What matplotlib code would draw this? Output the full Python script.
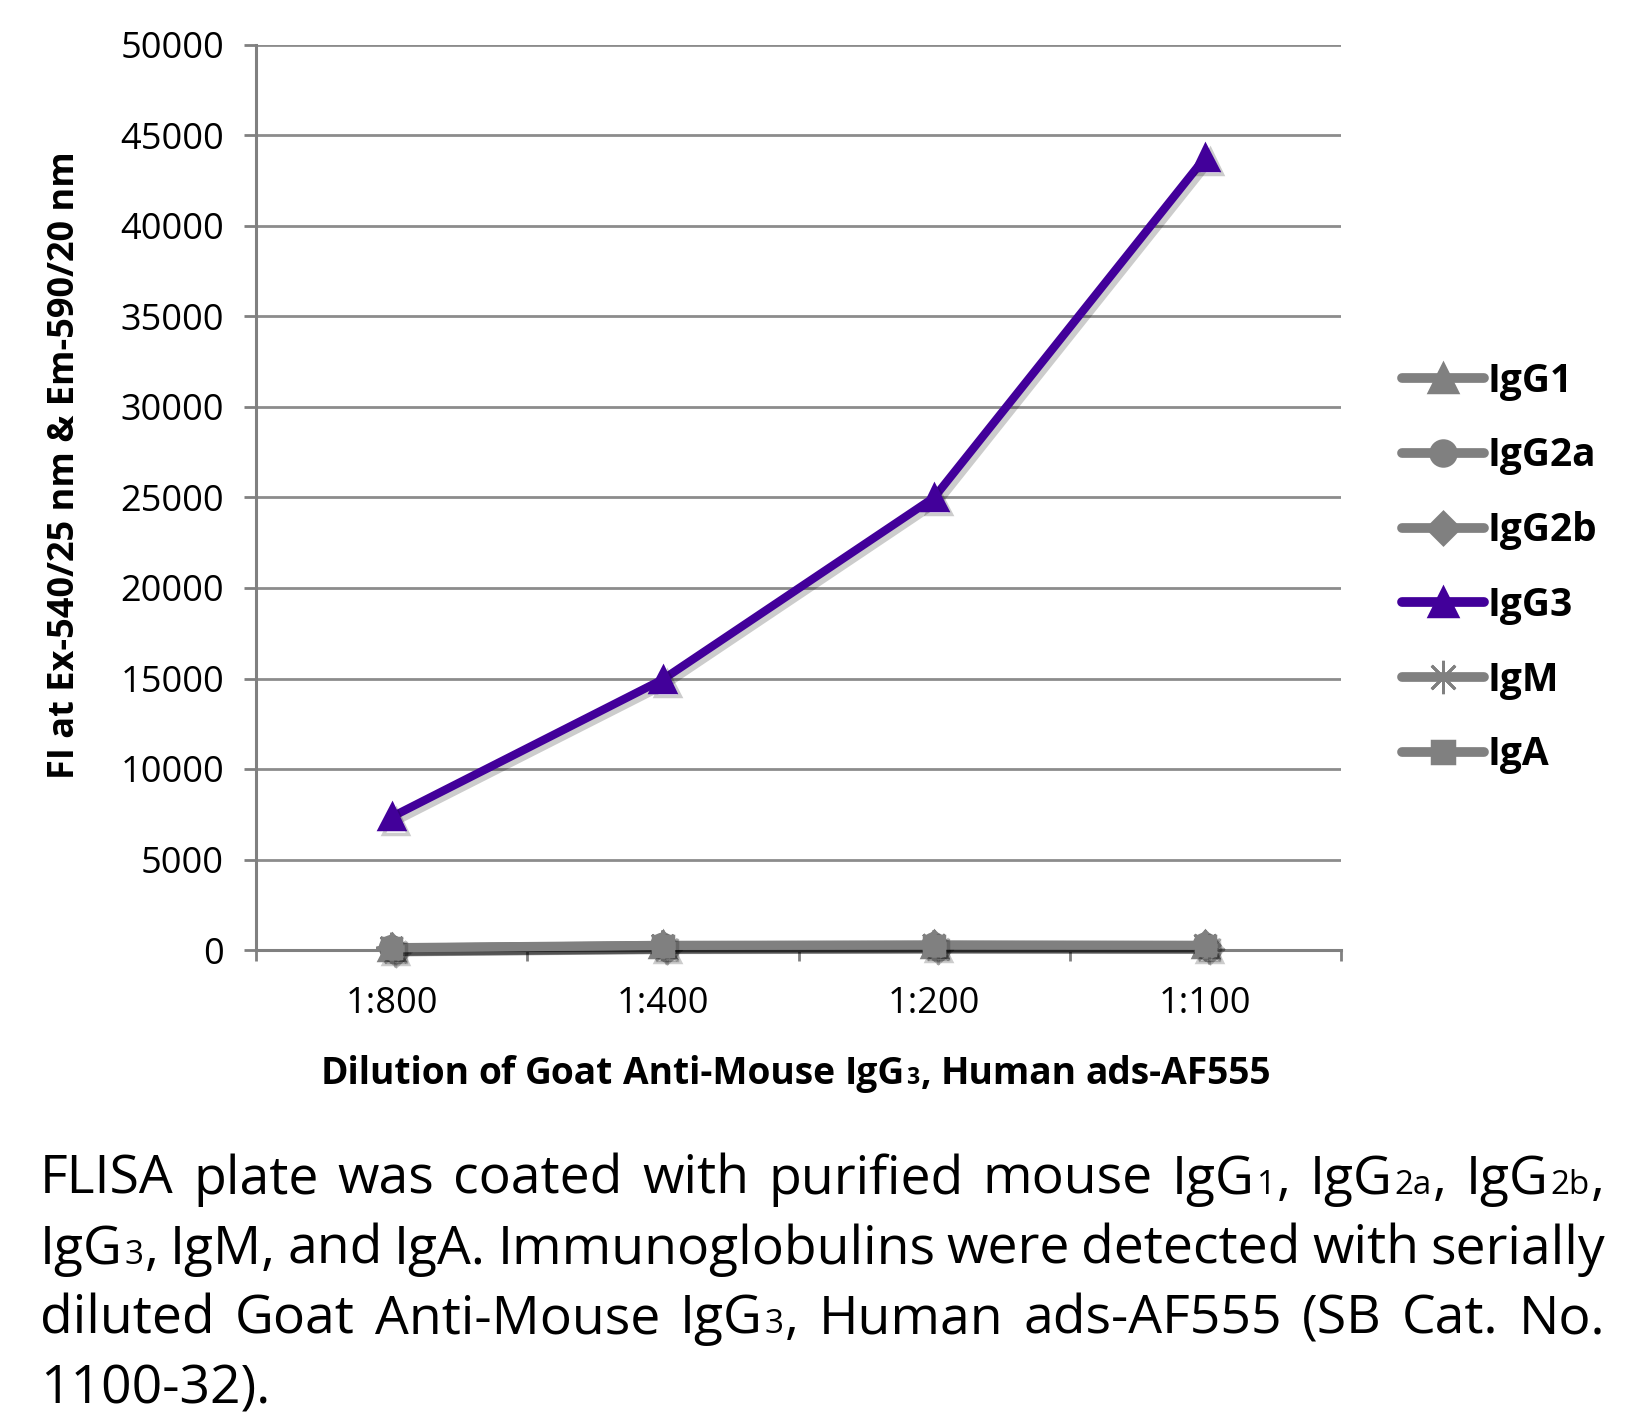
import re
import numpy as np
import matplotlib
matplotlib.use("Agg")
import matplotlib.pyplot as plt
import matplotlib.patheffects as pe
from matplotlib.lines import Line2D

W, H, DPI = 1642, 1419, 100
FONT = "Open Sans"

dilutions = ["1:800", "1:400", "1:200", "1:100"]
series_names = ["IgG1", "IgG2a", "IgG2b", "IgG3", "IgM", "IgA"]
igg1 = [150, 280, 300, 280]
igg2a = [120, 250, 270, 260]
igg2b = [130, 260, 280, 270]
igg3 = [7350, 14950, 25000, 43800]
igm = [110, 240, 260, 250]
iga = [100, 230, 250, 240]
y_ticks = list(range(0, 50001, 5000))

series_values = [igg1, igg2a, igg2b, igg3, igm, iga]
GREY = "#808080"
PURPLE = "#42009A"
colors = [GREY, GREY, GREY, PURPLE, GREY, GREY]
markers = ["^", "o", "D", "^", (8, 2, 0), "s"]
msizes = [18, 16, 14, 18, 22, 14]
mews = [2.5, 2.5, 2.5, 2.5, 2.0, 2.5]

x_label = "Dilution of Goat Anti-Mouse IgG{3}, Human ads-AF555"
y_label = "FI at Ex-540/25 nm & Em-590/20 nm"
caption = [
    "FLISA plate was coated with purified mouse IgG{1}, IgG{2a}, IgG{2b},",
    "IgG{3}, IgM, and IgA.  Immunoglobulins were detected with serially",
    "diluted Goat Anti-Mouse IgG{3}, Human ads-AF555 (SB Cat. No.",
    "1100-32).",
]

fig = plt.figure(figsize=(W / DPI, H / DPI), dpi=DPI)
renderer = fig.canvas.get_renderer()

ax = fig.add_axes([256 / W, (H - 950) / H, (1341 - 256) / W, (950 - 45) / H])
x = np.arange(len(dilutions))
shadow = [pe.SimpleLineShadow(offset=(3, -3), shadow_color="k", alpha=0.2), pe.Normal()]
for name, vals, c, m, ms, mew in zip(series_names, series_values, colors, markers, msizes, mews):
    ax.plot(x, vals, color=c, lw=6, marker=m, markersize=ms, mew=mew,
            markerfacecolor=c, markeredgecolor=c, solid_capstyle="round",
            solid_joinstyle="round", path_effects=shadow, zorder=3,
            label=name, clip_on=False)

ax.set_xlim(-0.5, len(dilutions) - 0.5)
ax.set_ylim(0, 50000)
ax.set_xticks(x)
ax.set_xticklabels(dilutions, family=FONT, fontsize=26)
ax.set_xticks(np.arange(-0.5, len(dilutions), 1.0), minor=True)
ax.set_yticks(y_ticks)
ax.set_yticklabels([str(v) for v in y_ticks], family=FONT, fontsize=26)
ax.tick_params(axis="x", which="major", length=0, pad=26)
ax.tick_params(axis="x", which="minor", length=8, width=2, color=GREY, direction="out")
ax.tick_params(axis="y", length=9, width=2, color=GREY, pad=14)
ax.grid(axis="y", color="#8c8c8c", lw=2)
ax.set_axisbelow(True)
for s in ["top", "right"]:
    ax.spines[s].set_visible(False)
for s in ["left", "bottom"]:
    ax.spines[s].set_color(GREY)
    ax.spines[s].set_linewidth(2.2)

# legend
handles = [Line2D([], [], color=c, lw=7, marker=m, markersize=ms + 2, mew=mew,
                  markerfacecolor=c, markeredgecolor=c, solid_capstyle="round")
           for c, m, ms, mew in zip(colors, markers, msizes, mews)]
fig.legend(handles, series_names, loc="center left",
           bbox_to_anchor=(1402 / W, (H - 568) / H), frameon=False,
           prop={"family": FONT, "weight": "bold", "size": 28},
           handlelength=2.1, handletextpad=0.1, labelspacing=0.92,
           borderpad=0, borderaxespad=0)


def parse(word):
    segs = []
    for p in re.split(r"(\{[^}]*\})", word):
        if not p:
            continue
        if p.startswith("{"):
            segs.append((p[1:-1], True))
        else:
            segs.append((p, False))
    return segs


def text_w(s, size, weight):
    t = fig.text(0, 0, s, fontsize=size, family=FONT, weight=weight)
    w = t.get_window_extent(renderer).width
    t.remove()
    return w


def word_w(segs, size, weight, sub=0.62):
    total = 0
    for s, small in segs:
        total += text_w(s, size * sub if small else size, weight) + 1.5
    return total - 1.5


def draw_word(segs, x0, base, size, weight, sub=0.62):
    xc = x0
    for s, small in segs:
        sz = size * sub if small else size
        fig.text(xc / W, (H - base) / H, s, fontsize=sz, family=FONT,
                 weight=weight, ha="left", va="baseline")
        xc += text_w(s, sz, weight) + 1.5


# x axis label, fitted to its width in the reference
xl_words = [parse(w) for w in x_label.split(" ")]
size = 28
nat = sum(word_w(w, size, "bold") for w in xl_words) + 0.25 * size * 1.389 * (len(xl_words) - 1)
size = min(size, size * 951 / nat)
gap = 0.25 * size * 1.389
ws = [word_w(w, size, "bold") for w in xl_words]
xc = 796 - (sum(ws) + gap * (len(ws) - 1)) / 2
for w, ww in zip(xl_words, ws):
    draw_word(w, xc, 1084, size, "bold")
    xc += ww + gap

# y axis label
ysize = 26
yw = text_w(y_label, ysize, "bold")
ysize = min(ysize, ysize * 644 / yw)
fig.text(65 / W, (H - 465) / H, y_label, rotation=90, ha="center", va="center",
         family=FONT, weight="bold", fontsize=ysize)

# caption, justified
left, right = 40, 1605
lines = [[parse(w) for w in ln.split()] for ln in caption]
csize = 40
need = []
for ln in lines[:3]:
    wsum = sum(word_w(w, csize, "normal") for w in ln)
    need.append(wsum + 0.22 * csize * 1.389 * (len(ln) - 1))
csize = min(csize, csize * (right - left) / max(need))
baselines = [1194, 1264, 1333, 1403]
for i, (ln, base) in enumerate(zip(lines, baselines)):
    ws = [word_w(w, csize, "normal") for w in ln]
    if i < 3 and len(ln) > 1:
        gap = (right - left - sum(ws)) / (len(ln) - 1)
    else:
        gap = 0.27 * csize * 1.389
    xc = left
    for w, ww in zip(ln, ws):
        draw_word(w, xc, base, csize, "normal")
        xc += ww + gap

fig.savefig("out.png", dpi=DPI)
